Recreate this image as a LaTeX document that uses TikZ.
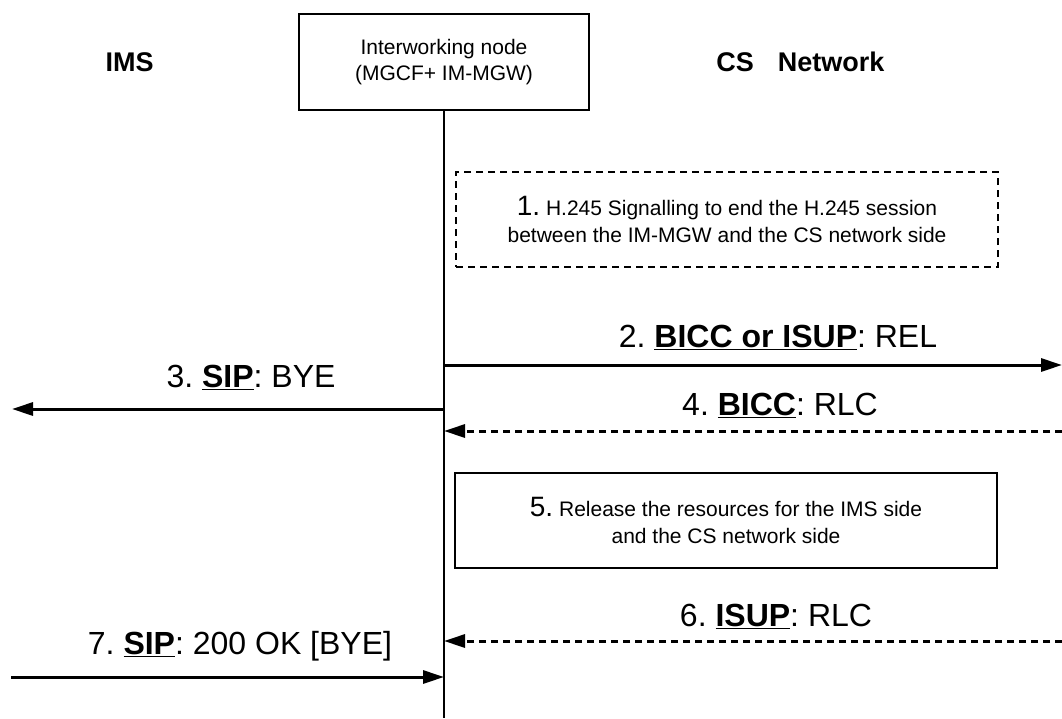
\documentclass[tikz,border=0pt]{standalone}
\usepackage{fontspec}
\setmainfont{Liberation Sans}
\usepackage{tikz}
\usetikzlibrary{
  arrows.meta,
  positioning,
  calc
}
\frenchspacing
\newcommand{\stepno}[1]{{\fontsize{28}{28}\selectfont #1}}
\tikzset{
  ifnode/.style={
    draw, line width=2.5pt, minimum width=290pt, minimum height=96pt,
    align=center, inner sep=0pt, font=\fontsize{21}{26}\selectfont
  },
  party/.style={inner sep=0pt, font=\fontsize{27}{32}\selectfont\bfseries},
  stepbox/.style={
    draw, line width=2.5pt, minimum width=542pt, minimum height=95pt,
    align=center, inner sep=0pt, font=\fontsize{21}{27}\selectfont
  },
  notebox/.style={stepbox, dash pattern=on 7pt off 5pt},
  lifeline/.style={line width=2pt},
  sig/.style={-{Triangle[length=21pt, width=13pt]}, line width=3pt},
  reply/.style={sig, dash pattern=on 7pt off 5pt},
  lbl/.style={anchor=base, inner sep=0pt, font=\fontsize{32}{36}\selectfont}
}

\begin{document}
\begin{tikzpicture}[x=1pt, y=-1pt]
  \useasboundingbox[fill=white] (0,0) rectangle (1062,718);

  % entities
  \node[ifnode] (iw) at (444,62) {Interworking node\\(MGCF+ IM-MGW)};
  \node[party, left=144pt of iw] (ims) {IMS};
  \node[party, right=126pt of iw] (cs) {CS\hspace{24pt}Network};
  \coordinate (iwend) at (444,718);
  \draw[lifeline] (iw.south) -- (iwend);

  % steps
  \node[notebox] (h245) at (727,219.5)
    {\stepno{1.} H.245 Signalling to end the H.245 session\\between the IM-MGW and the CS network side};
  \node[stepbox] (rel) at (726,520.5)
    {\stepno{5.} Release the resources for the IMS side\\and the CS network side};

  % messages
  \coordinate (cs2) at (1062,365);
  \coordinate (ims3) at (12,409);
  \coordinate (cs4) at (1062,431);
  \coordinate (cs6) at (1062,641);
  \coordinate (ims7) at (11,677);
  \draw[sig] (iw.south |- cs2) -- (cs2);
  \draw[sig] (iw.south |- ims3) -- (ims3);
  \draw[reply] (cs4) -- (iw.south |- cs4);
  \draw[reply] (cs6) -- (iw.south |- cs6);
  \draw[sig] (ims7) -- (iw.south |- ims7);

  \node[lbl] (m2) at (778,347) {2. \underline{\textbf{BICC or ISUP}}: REL};
  \node[lbl] (m3) at (251,387) {3. \underline{\textbf{SIP}}: BYE};
  \node[lbl] (m4) at (780,415) {4. \underline{\textbf{BICC}}: RLC};
  \node[lbl] (m6) at (776,626) {6. \underline{\textbf{ISUP}}: RLC};
  \node[lbl] (m7) at (240,654) {7. \underline{\textbf{SIP}}: 200 OK [BYE]};
\end{tikzpicture}
\end{document}
